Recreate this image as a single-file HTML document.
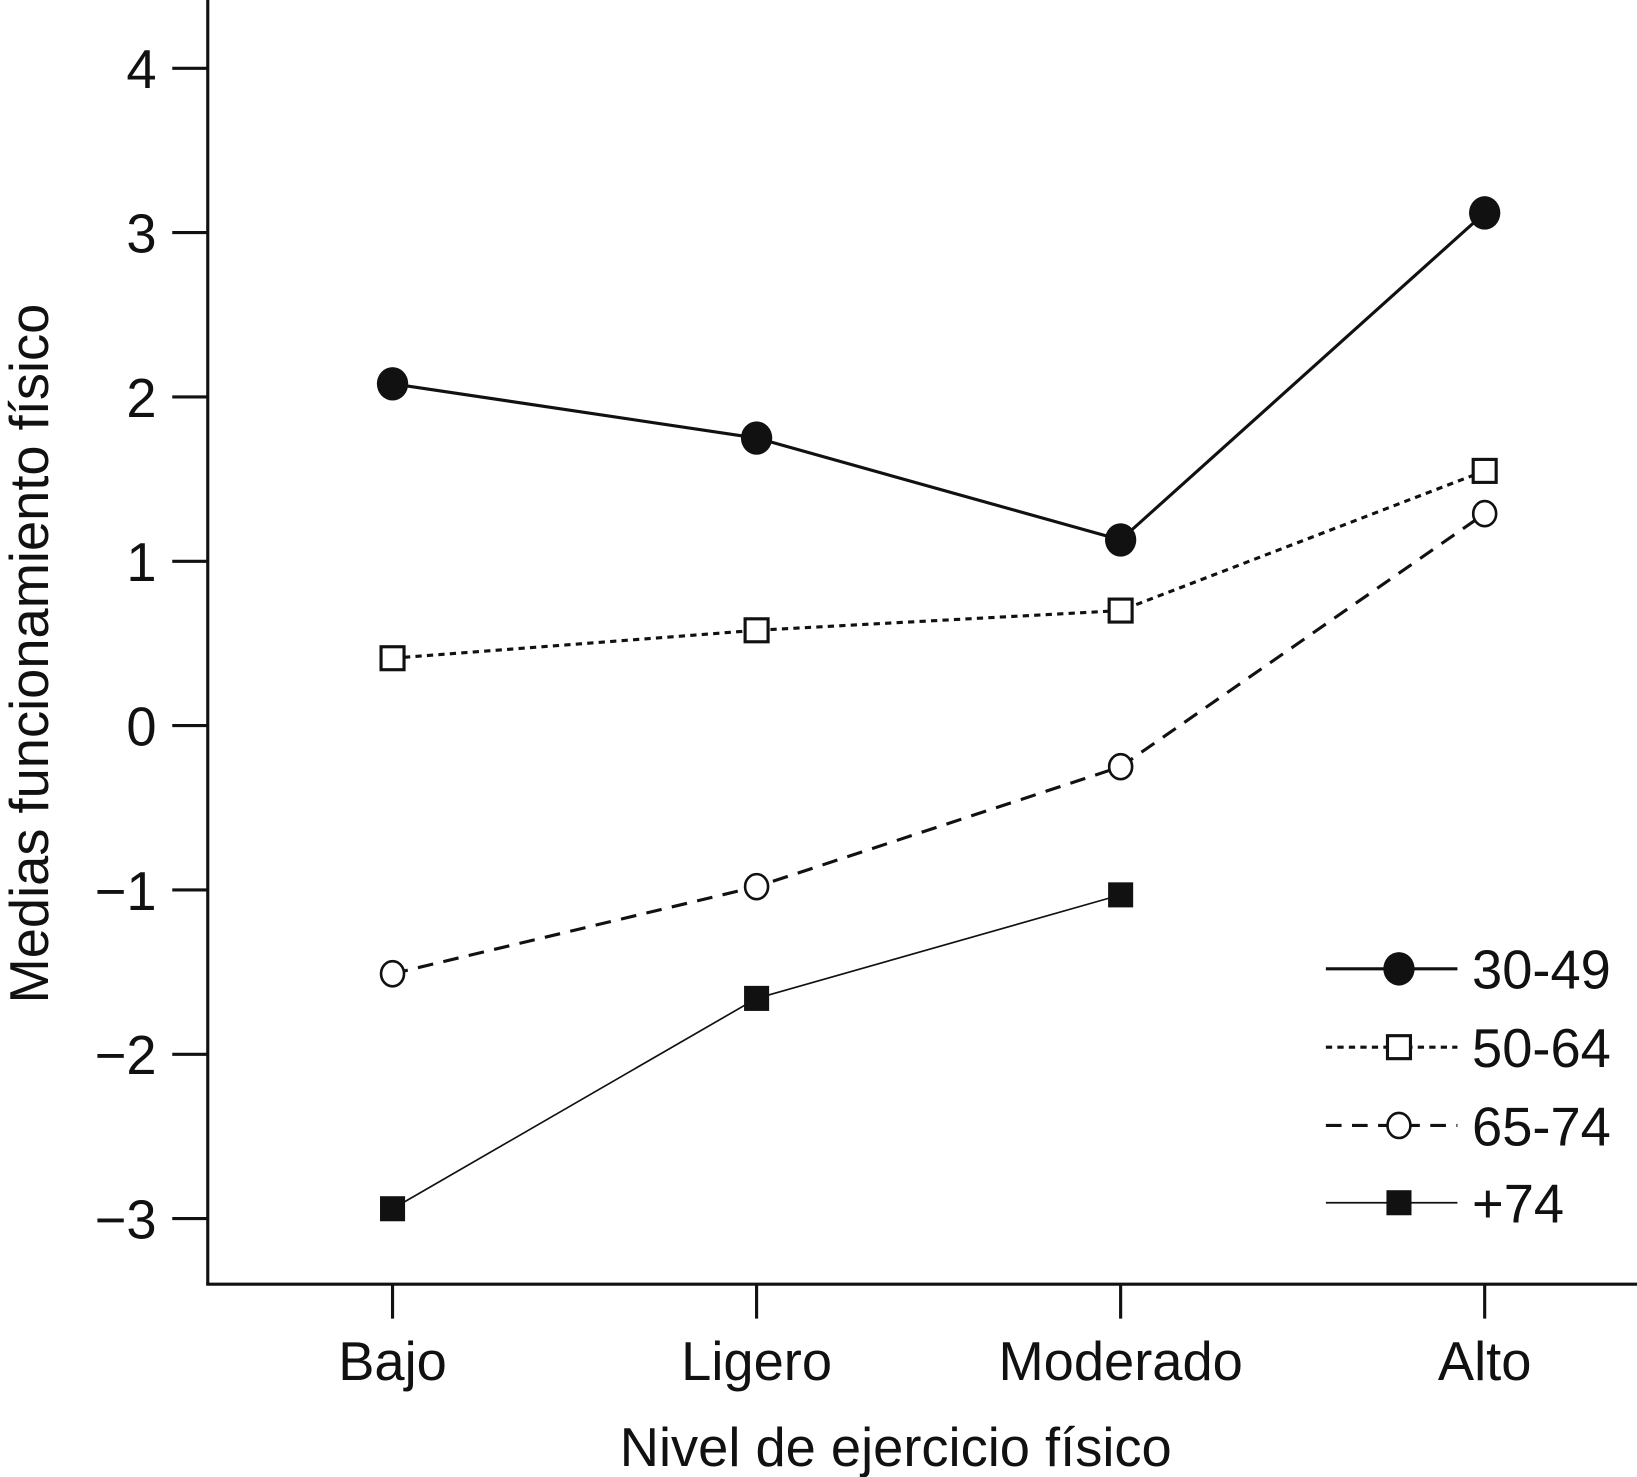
<!DOCTYPE html>
<html><head><meta charset="utf-8"><style>html,body{margin:0;padding:0;background:#fff}svg{display:block}text{font-family:"Liberation Sans",Arial,sans-serif;fill:#111}</style></head>
<body>
<svg id="chart" width="1637" height="1477" viewBox="0 0 1568 1414.7" preserveAspectRatio="none" xmlns="http://www.w3.org/2000/svg"></svg>
<script>
const categories = ["Bajo", "Ligero", "Moderado", "Alto"];
const yTicks = [4, 3, 2, 1, 0, -1, -2, -3];
const yTickLabels = ["4", "3", "2", "1", "0", "\u22121", "\u22122", "\u22123"];
const seriesNames = ["30-49", "50-64", "65-74", "+74"];
const s3049 = [2.08, 1.75, 1.13, 3.12];
const s5064 = [0.41, 0.58, 0.70, 1.55];
const s6574 = [-1.51, -0.98, -0.25, 1.29];
const s74 = [-2.94, -1.66, -1.03];

const NS = "http://www.w3.org/2000/svg";
const svg = document.getElementById("chart");
function el(tag, attrs, parent) {
  const e = document.createElementNS(NS, tag);
  for (const k in attrs) e.setAttribute(k, attrs[k]);
  (parent || svg).appendChild(e);
  return e;
}
const axX = 199, axY = 1230;
function yScale(v) { return 695 - v * 157.4; }
function xScale(i) { return 376 + i * 348.7; }

let a = el("line", {x1: axX, y1: 0, x2: axX, y2: axY, stroke: "#111", "stroke-width": 3});


a = el("line", {x1: axX - 1.5, y1: axY, x2: 1568, y2: axY, stroke: "#111", "stroke-width": 3});



yTicks.forEach((v, i) => {
  const y = yScale(v);
  const t = el("line", {x1: 165, y1: y, x2: axX, y2: y, stroke: "#111", "stroke-width": 3});
  
  
  const lb = el("text", {x: 150, y: y + 19, "font-size": 52, "text-anchor": "end"});
  lb.textContent = yTickLabels[i];
  
  
});
categories.forEach((c, i) => {
  const x = xScale(i);
  const t = el("line", {x1: x, y1: axY, x2: x, y2: 1263, stroke: "#111", "stroke-width": 3});
  
  
  const lb = el("text", {x: x, y: 1322, "font-size": 52, "text-anchor": "middle"});
  lb.textContent = c;
  
  
});
let tt = el("text", {x: 858, y: 1404, "font-size": 52, "text-anchor": "middle"});
tt.textContent = "Nivel de ejercicio físico";


tt = el("text", {x: 0, y: 0, "font-size": 52, "text-anchor": "middle", transform: "translate(46,626) rotate(-90)"});
tt.textContent = "Medias funcionamiento físico";



const styles = [
  {w: 3, dash: "", marker: "fcircle"},
  {w: 3, dash: "6 5", marker: "osquare"},
  {w: 3, dash: "15 10", marker: "ocircle"},
  {w: 1.6, dash: "", marker: "fsquare"}
];
function marker(kind, x, y, g) {
  let m;
  if (kind === "fcircle") m = el("ellipse", {cx: x, cy: y, rx: 15, ry: 16, fill: "#111"}, g);
  else if (kind === "osquare") m = el("rect", {x: x - 11, y: y - 11, width: 22, height: 22, fill: "#fff", stroke: "#111", "stroke-width": 3}, g);
  else if (kind === "ocircle") m = el("ellipse", {cx: x, cy: y, rx: 11, ry: 12, fill: "#fff", stroke: "#111", "stroke-width": 2.5}, g);
  else m = el("rect", {x: x - 12, y: y - 12, width: 24, height: 24, fill: "#111"}, g);
  return m;
}
const allSeries = [s3049, s5064, s6574, s74];
allSeries.forEach((data, si) => {
  const st = styles[si];
  const g = el("g", {});
  
  
  const pts = data.map((v, i) => xScale(i) + "," + yScale(v)).join(" ");
  const pl = el("polyline", {points: pts, fill: "none", stroke: "#111", "stroke-width": st.w, "stroke-dasharray": st.dash}, g);
  
  
  data.forEach((v, i) => {
    const m = marker(st.marker, xScale(i), yScale(v), g);
    
    
  });
});

const legRows = [928, 1003, 1078, 1152];
const lg = el("g", {});


seriesNames.forEach((n, si) => {
  const st = styles[si];
  const y = legRows[si];
  const ln = el("line", {x1: 1270, y1: y, x2: 1396, y2: y, stroke: "#111", "stroke-width": st.w, "stroke-dasharray": st.dash}, lg);
  
  
  const m = marker(st.marker, 1340, y, lg);
  
  
  const t = el("text", {x: 1410, y: y + 19, "font-size": 52}, lg);
  t.textContent = n;
  
  
});
</script>
</body></html>
